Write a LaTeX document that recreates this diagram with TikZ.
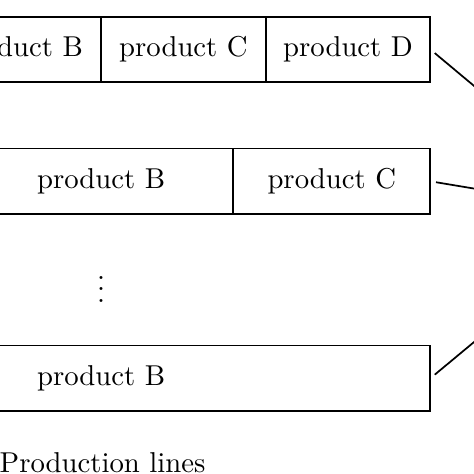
\documentclass[tikz,border=0pt]{standalone}
\usepackage{tikz}
\usetikzlibrary{%
positioning,%
calc}

\tikzset{
  cell/.style={draw,semithick,rectangle,minimum height=22.8pt,inner sep=0pt,outer sep=0pt},
  link/.style={semithick,shorten <=2pt}
}

\begin{document}
\begin{tikzpicture}
\useasboundingbox (0,0) rectangle (165pt,-165pt);
\clip (0,0) rectangle (165pt,-165pt);
% first line
\node[cell,minimum width=57.3pt] (oneC) at (63.85pt,-17.2pt) {product C};
\node[cell,minimum width=57.3pt,right=0pt of oneC] (oneD) {product D};
\node[cell,minimum width=57.3pt,left=0pt of oneC] (oneB) {product B};
% second line
\node[cell,minimum width=68.6pt] (twoC) at (115.5pt,-63.1pt) {product C};
\node[cell,minimum width=92pt,left=0pt of twoC] (twoB) {product B};
% last line
\node (dots) at (35.2pt,-97.7pt) {$\vdots$};
\node[cell,minimum width=229.2pt] (lastB) at (35.2pt,-131.7pt) {product B};
\node[anchor=base west,inner sep=0pt] (title) at (-0.3pt,-164.5pt) {Production lines};
% links to the right
\coordinate (target) at (218.5pt,-74.6pt);
\draw[link] (oneD.east) -- (target);
\draw[link] (twoC.east) -- (target);
\draw[link] (lastB.east) -- (target);
\end{tikzpicture}
\end{document}
